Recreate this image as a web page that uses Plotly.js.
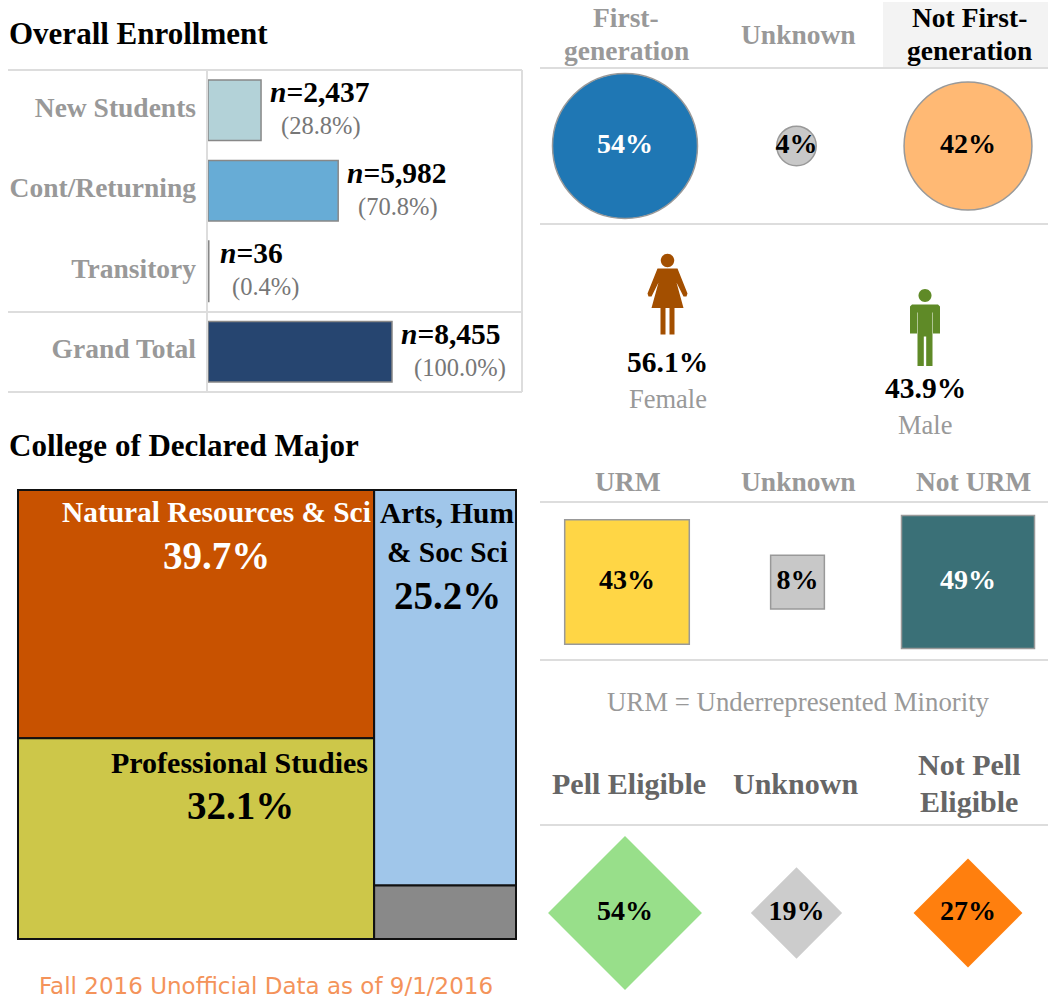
<!DOCTYPE html>
<html><head><meta charset="utf-8">
<script src="https://cdn.plot.ly/plotly-3.0.0.min.js"></script>
<style>html,body{margin:0;padding:0;background:#fff}#c{width:1048px;height:1000px}</style>
</head><body><div id="c"></div>
<script>
// ---- data ----
const enrollCats = ["New Students","Cont/Returning","Transitory","Grand Total"];
const enrollN = [2437,5982,36,8455];
const enrollPct = ["(28.8%)","(70.8%)","(0.4%)","(100.0%)"];
const enrollColors = ["#b3d2d8","#67acd6","#b3d2d8","#264570"];

const collegeNames = ["Natural Resources & Sci","Professional Studies","Arts, Hum & Soc Sci","Other"];
const collegeVals = [39.7,32.1,25.2,3.4];
const collegeColors = ["#c85200","#cdc749","#a0c6ea","#898989"];

const genCats = ["First-generation","Unknown","Not First-generation"];
const genVals = [54,4,42];
const genColors = ["#1f77b4","#c8c8c8","#ffb974"];

const urmCats = ["URM","Unknown","Not URM"];
const urmVals = [43,8,49];
const urmColors = ["#ffd645","#c8c8c8","#3a7077"];

const pellCats = ["Pell Eligible","Unknown","Not Pell Eligible"];
const pellVals = [54,19,27];
const pellColors = ["#98df8a","#cccccc","#ff7f0e"];

const genderCats = ["Female","Male"];
const genderVals = [56.1,43.9];
const genderColors = ["#a34f00","#5f8a27"];

// ---- helpers ----
const W=1048,H=1000, SERIF="'Liberation Serif', serif";
const dx=(a,b)=>[a/W,b/W], dy=(top,bot)=>[1-bot/H,1-top/H];
const px=x=>x/W, py=y=>1-y/H;
const annotations=[], shapes=[];
function txt(x,y,text,size,color,bold,opts){
  annotations.push(Object.assign({xref:'paper',yref:'paper',x:px(x),y:py(y),text:bold?`<b>${text}</b>`:text,showarrow:false,
    xanchor:'center',yanchor:'middle',font:{family:SERIF,size:size,color:color},align:'center'},opts||{}));
}
function hline(y,x0,x1){shapes.push({type:'line',xref:'paper',yref:'paper',x0:px(x0),x1:px(x1),y0:py(y),y1:py(y),line:{color:'#dddddd',width:2},layer:'below'})}
function vline(x,y0,y1){shapes.push({type:'line',xref:'paper',yref:'paper',x0:px(x),x1:px(x),y0:py(y0),y1:py(y1),line:{color:'#dddddd',width:2},layer:'below'})}

// table frame
hline(70,8,522);hline(312,8,522);hline(392,8,522);vline(207,70,392);vline(522,70,392);
// highlighted header
shapes.push({type:'rect',xref:'paper',yref:'paper',x0:px(883),x1:px(1048),y0:py(2),y1:py(68),fillcolor:'#f3f3f3',line:{width:0},layer:'below'});

// titles and notes
txt(7,33,"Overall Enrollment",31,"#000",true,{xanchor:'left'});
txt(7,446,"College of Declared Major",31,"#000",true,{xanchor:'left'});
txt(798,702,"URM = Underrepresented Minority",26.8,"#999",false);
annotations.push({xref:'paper',yref:'paper',x:px(266),y:py(986),text:"Fall 2016 Unofficial Data as of 9/1/2016",showarrow:false,xanchor:'center',yanchor:'middle',font:{family:"'DejaVu Sans',sans-serif",size:23,color:'#f4935a'}});

// enrollment labels
const nOffset=[59,59,43,59], pctOffset=[60,60,57,68];
enrollCats.forEach((c,i)=>{
  const lab=`<b><i>n</i>=${enrollN[i].toLocaleString('en-US')}</b>`;
  annotations.push({xref:'x',yref:'y',x:enrollN[i],y:c,xshift:nOffset[i],yshift:18,text:lab,showarrow:false,xanchor:'center',yanchor:'middle',font:{family:SERIF,size:29.5,color:'#000'}});
  annotations.push({xref:'x',yref:'y',x:enrollN[i],y:c,xshift:pctOffset[i],yshift:-16,text:enrollPct[i],showarrow:false,xanchor:'center',yanchor:'middle',font:{family:SERIF,size:24.5,color:'#777'}});
});

// panel headers, one annotation per line
function headers(axis,labels,y,gap,size,color,shift,dark){
  labels.forEach((t,i)=>{
    const lines=t.split('|');
    lines.forEach((ln,k)=>annotations.push({xref:axis,yref:'paper',x:i,xshift:shift[i],y:py(y+(k-(lines.length-1)/2)*gap),text:`<b>${ln}</b>`,showarrow:false,xanchor:'center',yanchor:'middle',
      font:{family:SERIF,size:size,color:(dark&&dark[i])||color}}));
  });
}
headers('x2',["First-|generation","Unknown","Not First-|generation"],34,33,27.5,'#999',[1,2,1],{2:'#000'});
headers('x3',["URM","Unknown","Not URM"],481,33,27.5,'#999',[1,1,5]);
headers('x4',["Pell Eligible","Unknown","Not Pell|Eligible"],783,37,30,'#666',[4,-1,1]);

// treemap labels
txt(216,512,"Natural Resources & Sci",29.4,"#fff",true);
txt(216,555,"39.7%",39,"#fff",true);
txt(239,762,"Professional Studies",30,"#000",true);
txt(240,805,"32.1%",39,"#000",true);
txt(447,513,"Arts, Hum",29.4,"#000",true);
txt(447,552,"& Soc Sci",29.4,"#000",true);
txt(447,595,"25.2%",39,"#000",true);

// gender icons: shapes anchored on the data values
function pathShape(i,path){
  shapes.push({type:'path',xref:'x5',yref:'y5',xsizemode:'pixel',ysizemode:'pixel',xanchor:genderCats[i],yanchor:genderVals[i],path,fillcolor:genderColors[i],line:{width:0},layer:'above'});
}
const head=(cx,cy,r)=>`M${cx-r} ${cy} C${cx-r} ${cy+r*.55} ${cx-r*.55} ${cy+r} ${cx} ${cy+r} C${cx+r*.55} ${cy+r} ${cx+r} ${cy+r*.55} ${cx+r} ${cy} C${cx+r} ${cy-r*.55} ${cx+r*.55} ${cy-r} ${cx} ${cy-r} C${cx-r*.55} ${cy-r} ${cx-r} ${cy-r*.55} ${cx-r} ${cy} Z`;
pathShape(0,head(0,34,6.7));
pathShape(0,"M-10 26 L10 26 L20 1 L19 -2 L16 -2 L9 12 L16 -13.5 L7 -13.5 L7 -40 L2 -40 L2 -13.5 L-2 -13.5 L-2 -40 L-7 -40 L-7 -13.5 L-16 -13.5 L-9 12 L-16 -2 L-19 -2 L-20 1 Z");
pathShape(1,head(0,32,6.5));
pathShape(1,"M-13 23 L13 23 L15 21 L15 -6 L11 -6 L11 -6 L8 -6 L8 15 L7.5 15 L7.5 -38.5 L1.2 -38.5 L1.2 -9 L-1.2 -9 L-1.2 -38.5 L-7.5 -38.5 L-7.5 15 L-8 15 L-8 -6 L-15 -6 L-15 21 Z");
const genderPctShift=[-67.5,-60.5], genderLabShift=[-104.5,-97.5];
genderCats.forEach((c,i)=>{
  annotations.push({xref:'x5',yref:'y5',x:c,y:genderVals[i],yshift:genderPctShift[i],text:`<b>${genderVals[i].toFixed(1)}%</b>`,showarrow:false,xanchor:'center',yanchor:'middle',font:{family:SERIF,size:29.5,color:'#000'}});
  annotations.push({xref:'x5',yref:'y5',x:c,y:genderVals[i],yshift:genderLabShift[i],text:c,showarrow:false,xanchor:'center',yanchor:'middle',font:{family:SERIF,size:26.5,color:'#999'}});
});

// ---- traces ----
const markerTrace=(xa,ya,cats,vals,cols,symbol,sizeref,textCols,lineCol)=>({
  type:'scatter',mode:'markers+text',xaxis:xa,yaxis:ya,x:cats,y:cats.map(()=>0),cliponaxis:false,
  text:vals.map(v=>v+'%'),textposition:'middle center',
  textfont:{family:SERIF,size:28,color:textCols,weight:700},
  marker:{symbol,size:vals,sizemode:'area',sizeref,color:cols,line:{color:lineCol,width:lineCol?1.5:0},opacity:1},
  hoverinfo:'skip',showlegend:false
});
const enrollBar={type:'bar',orientation:'h',x:enrollN,y:enrollCats,width:0.75,
  marker:{color:enrollColors,line:{color:'#888888',width:1.5}},hoverinfo:'skip',showlegend:false};

const leftSum=collegeVals[0]+collegeVals[1], rightSum=collegeVals[2]+collegeVals[3];
const treemap={type:'treemap',
  labels:["All","Left","Right"].concat(collegeNames),
  parents:["","All","All","Left","Left","Right","Right"],
  values:[leftSum+rightSum,leftSum,rightSum].concat(collegeVals),
  branchvalues:'total',sort:false,textinfo:'none',hoverinfo:'skip',
  marker:{colors:["#000","#000","#000"].concat(collegeColors),line:{color:'#111',width:2},pad:{t:0,l:0,r:0,b:0},depthfade:false},
  tiling:{packing:'slice-dice',pad:0},pathbar:{visible:false},
  domain:{x:dx(18,516),y:dy(490,939)}
};

const cols3=[(540-625)/171.5,(1048-625)/171.5];
const colsUrm=[(540-627)/170.5,(1048-627)/170.5];
const panelX=(dom)=>({domain:dx(540,1048),range:cols3,showticklabels:false,ticks:'',showgrid:false,zeroline:false,fixedrange:true,type:'category',...dom});
const hiddenY=(top,bot,anchor,range)=>({domain:dy(top,bot),range:range||[-1,1],visible:false,fixedrange:true,anchor});

const traces=[enrollBar,
  markerTrace('x2','y2',genCats,genVals,genColors,'circle',54/2/(72.5*72.5),['#fff','#000','#000'],'#999'),
  markerTrace('x3','y3',urmCats,urmVals,urmColors,'square',49/2/(66.5*66.5),['#000','#000','#fff'],'#999'),
  markerTrace('x4','y4',pellCats,pellVals,pellColors,'diamond',54/2/(59.2*59.2),['#000','#000','#000'],null),
  treemap
];

const layout={width:W,height:H,margin:{l:0,r:0,t:0,b:0,pad:0},paper_bgcolor:'#fff',plot_bgcolor:'rgba(0,0,0,0)',showlegend:false,
  font:{family:SERIF},annotations,shapes,
  xaxis:{domain:dx(208,522),range:[0,14428],visible:false,fixedrange:true},
  yaxis:{domain:dy(70,392),type:'category',categoryarray:enrollCats,categoryorder:'array',range:[3.5,-0.5],ticks:'',showline:false,showgrid:false,zeroline:false,
    tickfont:{family:SERIF,size:27.5,color:'#999',weight:700},ticklabelstandoff:11,ticklabelshift:3,fixedrange:true,automargin:false},
  xaxis2:panelX({anchor:'y2',showline:true,mirror:true,linecolor:'#dddddd',linewidth:2}),
  yaxis2:hiddenY(69,223,'x2'),
  xaxis3:panelX({anchor:'y3',range:colsUrm,showline:true,mirror:true,linecolor:'#dddddd',linewidth:2}),
  yaxis3:hiddenY(503,659,'x3',[-0.987,1.013]),
  xaxis4:panelX({anchor:'y4',side:'top',showline:true,linecolor:'#dddddd',linewidth:2}),
  yaxis4:hiddenY(826,1000,'x4'),
  xaxis5:{domain:dx(540,1048),range:[(540-667.5)/257.5,(1048-667.5)/257.5],type:'category',categoryarray:genderCats,categoryorder:'array',visible:false,fixedrange:true,anchor:'y5'},
  yaxis5:{domain:dy(224,444),range:[0.83,82.16],visible:false,fixedrange:true,anchor:'x5'}
};
Plotly.newPlot('c',traces,layout,{displayModeBar:false,staticPlot:true});
</script></body></html>
